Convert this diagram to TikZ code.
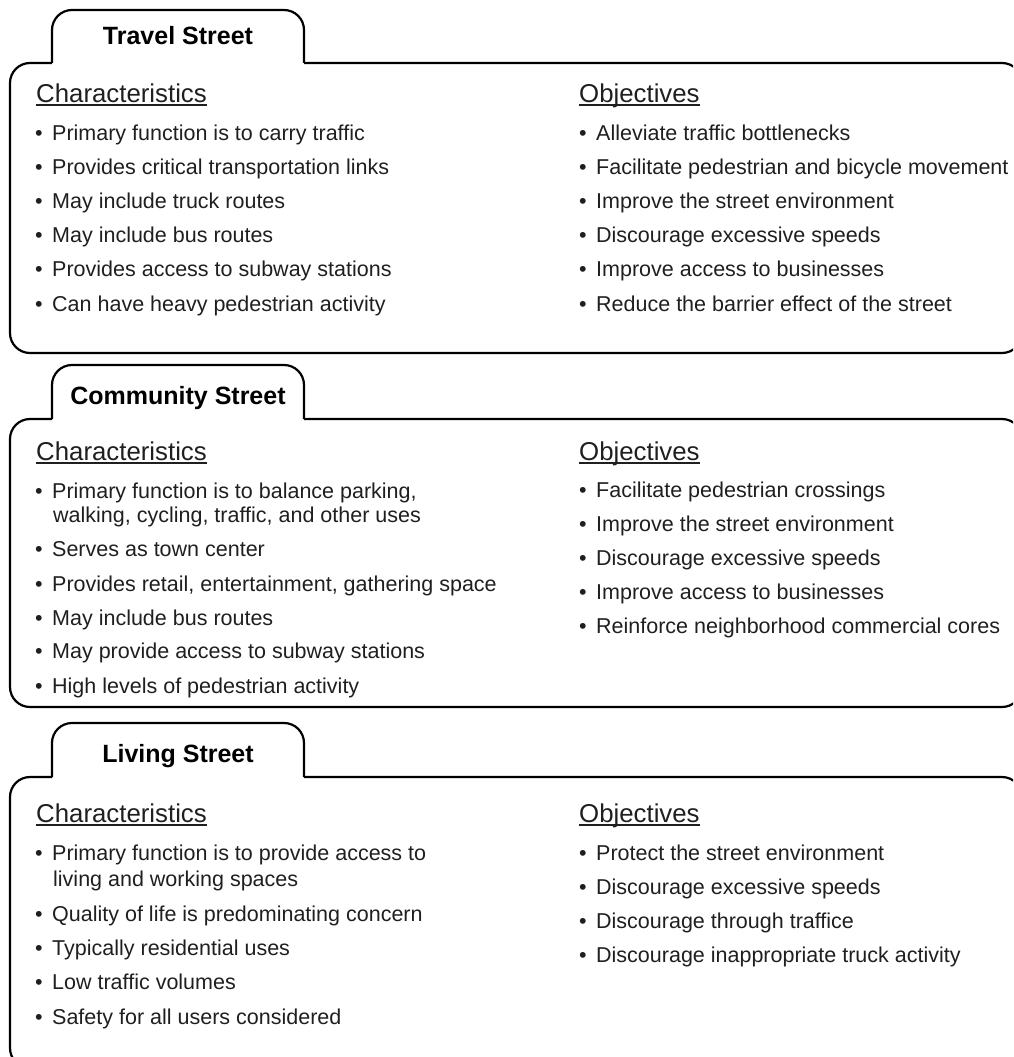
\documentclass[tikz,border=0pt]{standalone}
\usepackage{fontspec}
\setmainfont{Liberation Sans}
\begin{document}
\begin{tikzpicture}[x=1pt,y=-1pt,
  frame/.style={draw=black,line width=2.2pt,rounded corners=20pt},
  item/.style={anchor=base west,inner sep=0pt,text=black!88,font=\fontsize{21.5}{24}\selectfont},
  head/.style={anchor=base west,inner sep=0pt,text=black!88,font=\fontsize{25.8}{28}\selectfont},
  tabtitle/.style={anchor=base,inner sep=0pt,text=black,font=\bfseries\fontsize{25}{28}\selectfont},
  uline/.style={draw=black!88,line width=1.3pt}]
\useasboundingbox (0,0) rectangle (1013,1057);
\clip (0,0) rectangle (1013,1057);
\newcommand{\bul}{\makebox[17pt][l]{•}}
% ---------- Travel Street ----------
\draw[frame] (52,63) -- (52,10) -- (304,10) -- (304,63);
\draw[frame] (304,63) -- (1022,63) -- (1022,353) -- (10,353) -- (10,63) -- (52,63);
\node[tabtitle] (t1) at (178,45) {Travel Street};
\node[head] (t1c) at (36,102) {Characteristics};
\draw[uline] ([yshift=-3]t1c.base west) -- ([yshift=-3]t1c.base east);
\node[item] (t1c1) at (35,140) {\bul Primary function is to carry traffic};
\node[item] (t1c2) at (35,174) {\bul Provides critical transportation links};
\node[item] (t1c3) at (35,208) {\bul May include truck routes};
\node[item] (t1c4) at (35,242) {\bul May include bus routes};
\node[item] (t1c5) at (35,276) {\bul Provides access to subway stations};
\node[item] (t1c6) at (35,311) {\bul Can have heavy pedestrian activity};
\node[head] (t1o) at (579,102) {Objectives};
\draw[uline] ([yshift=-3]t1o.base west) -- ([yshift=-3]t1o.base east);
\node[item] (t1o1) at (579,140) {\bul Alleviate traffic bottlenecks};
\node[item] (t1o2) at (579,174) {\bul Facilitate pedestrian and bicycle movement};
\node[item] (t1o3) at (579,208) {\bul Improve the street environment};
\node[item] (t1o4) at (579,242) {\bul Discourage excessive speeds};
\node[item] (t1o5) at (579,276) {\bul Improve access to businesses};
\node[item] (t1o6) at (579,311) {\bul Reduce the barrier effect of the street};
% ---------- Community Street ----------
\draw[frame] (52,419) -- (52,365) -- (304,365) -- (304,419);
\draw[frame] (304,419) -- (1022,419) -- (1022,707) -- (10,707) -- (10,419) -- (52,419);
\node[tabtitle] (t2) at (178,404) {Community Street};
\node[head] (t2c) at (36,460) {Characteristics};
\draw[uline] ([yshift=-3]t2c.base west) -- ([yshift=-3]t2c.base east);
\node[item] (t2c1) at (35,498) {\bul Primary function is to balance parking,};
\node[item] (t2c1b) at (53,522) {walking, cycling, traffic, and other uses};
\node[item] (t2c2) at (35,556) {\bul Serves as town center};
\node[item] (t2c3) at (35,591) {\bul Provides retail, entertainment, gathering space};
\node[item] (t2c4) at (35,625) {\bul May include bus routes};
\node[item] (t2c5) at (35,658) {\bul May provide access to subway stations};
\node[item] (t2c6) at (35,693) {\bul High levels of pedestrian activity};
\node[head] (t2o) at (579,460) {Objectives};
\draw[uline] ([yshift=-3]t2o.base west) -- ([yshift=-3]t2o.base east);
\node[item] (t2o1) at (579,497) {\bul Facilitate pedestrian crossings};
\node[item] (t2o2) at (579,531) {\bul Improve the street environment};
\node[item] (t2o3) at (579,565) {\bul Discourage excessive speeds};
\node[item] (t2o4) at (579,599) {\bul Improve access to businesses};
\node[item] (t2o5) at (579,633) {\bul Reinforce neighborhood commercial cores};
% ---------- Living Street ----------
\draw[frame] (52,777) -- (52,723) -- (304,723) -- (304,777);
\draw[frame] (304,777) -- (1022,777) -- (1022,1068) -- (10,1068) -- (10,777) -- (52,777);
\node[tabtitle] (t3) at (178,762) {Living Street};
\node[head] (t3c) at (36,822) {Characteristics};
\draw[uline] ([yshift=-3]t3c.base west) -- ([yshift=-3]t3c.base east);
\node[item] (t3c1) at (35,860) {\bul Primary function is to provide access to};
\node[item] (t3c1b) at (53,886) {living and working spaces};
\node[item] (t3c2) at (35,921) {\bul Quality of life is predominating concern};
\node[item] (t3c3) at (35,955) {\bul Typically residential uses};
\node[item] (t3c4) at (35,989) {\bul Low traffic volumes};
\node[item] (t3c5) at (35,1024) {\bul Safety for all users considered};
\node[head] (t3o) at (579,822) {Objectives};
\draw[uline] ([yshift=-3]t3o.base west) -- ([yshift=-3]t3o.base east);
\node[item] (t3o1) at (579,860) {\bul Protect the street environment};
\node[item] (t3o2) at (579,894) {\bul Discourage excessive speeds};
\node[item] (t3o3) at (579,928) {\bul Discourage through traffice};
\node[item] (t3o4) at (579,962) {\bul Discourage inappropriate truck activity};
\end{tikzpicture}
\end{document}
